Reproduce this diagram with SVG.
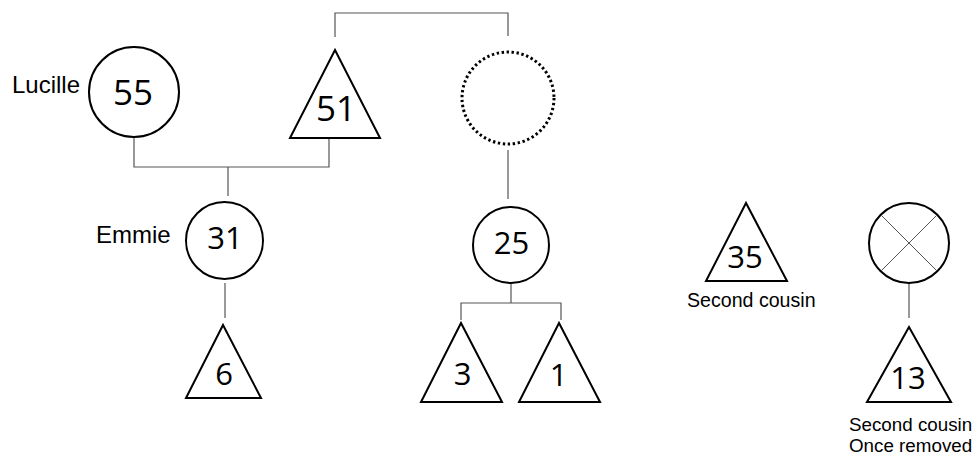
<svg xmlns="http://www.w3.org/2000/svg" width="979" height="454" viewBox="0 0 979 454">
  <style>
    .shape { fill: #fff; stroke: #000; stroke-width: 2; }
    .dotted { fill: none; stroke: #000; stroke-width: 3; stroke-dasharray: 2.4 2.6; }
    .cross { stroke: #555; stroke-width: 1; fill: none; }
    .link { fill: none; stroke: #555; stroke-width: 1.2; }
    .age { font-family: "Open Sans", "DejaVu Sans", sans-serif; font-size: 31px; fill: #000; text-anchor: middle; }
    .age.big { font-size: 35px; }
    .name { font-family: "Liberation Sans", Arial, sans-serif; font-size: 24px; fill: #000; }
    .note { font-family: "Liberation Sans", Arial, sans-serif; font-size: 19.6px; fill: #000; }
    .note.small { font-size: 18.8px; }
  </style>

  <g id="connectors">
    <path class="link" d="M335,37 V13 H508 V36"/>
    <path class="link" d="M134,138 V167 H329 V138"/>
    <path class="link" d="M228,167 V196"/>
    <path class="link" d="M508,150 V199"/>
    <path class="link" d="M225,283 V318"/>
    <path class="link" d="M511,283 V303 M461,320 V303 H561 V320"/>
    <path class="link" d="M909,283 V318"/>
  </g>

  <g id="lucille">
    <circle class="shape" cx="134" cy="92" r="45"/>
    <text class="age big" x="133" y="105">55</text>
    <text class="name" x="12" y="93">Lucille</text>
  </g>

  <g id="grandfather">
    <polygon class="shape" points="335,50 290,138 380,138"/>
    <text class="age big" x="336" y="121">51</text>
  </g>

  <g id="unknown-sibling">
    <circle class="dotted" cx="508" cy="98" r="46"/>
  </g>

  <g id="emmie">
    <circle class="shape" cx="224.5" cy="240.5" r="38.5"/>
    <text class="age" x="225" y="249">31</text>
    <text class="name" x="96" y="243">Emmie</text>
  </g>

  <g id="cousin-25">
    <circle class="shape" cx="511" cy="245" r="38"/>
    <text class="age" x="511.5" y="254">25</text>
  </g>

  <g id="child-6">
    <polygon class="shape" points="223,325 186,398 261,398"/>
    <text class="age" x="224" y="385">6</text>
  </g>

  <g id="child-3">
    <polygon class="shape" points="461,323 421,402 502,402"/>
    <text class="age" x="462.5" y="385">3</text>
  </g>

  <g id="child-1">
    <polygon class="shape" points="559,323 519,402 600,402"/>
    <text class="age" x="558.5" y="386">1</text>
  </g>

  <g id="second-cousin">
    <polygon class="shape" points="746,203 706,281 787,281"/>
    <text class="age" x="745" y="268">35</text>
    <text class="note" x="687" y="307">Second cousin</text>
  </g>

  <g id="deceased">
    <circle class="shape" cx="909" cy="243" r="40"/>
    <path class="cross" d="M881,215 L937,271 M937,215 L881,271"/>
  </g>

  <g id="second-cousin-once-removed">
    <polygon class="shape" points="909,327 867,402 951,402"/>
    <text class="age" x="908" y="389">13</text>
    <text class="note small" x="849" y="430.5">Second cousin</text>
    <text class="note small" x="849" y="451.5">Once removed</text>
  </g>
</svg>
